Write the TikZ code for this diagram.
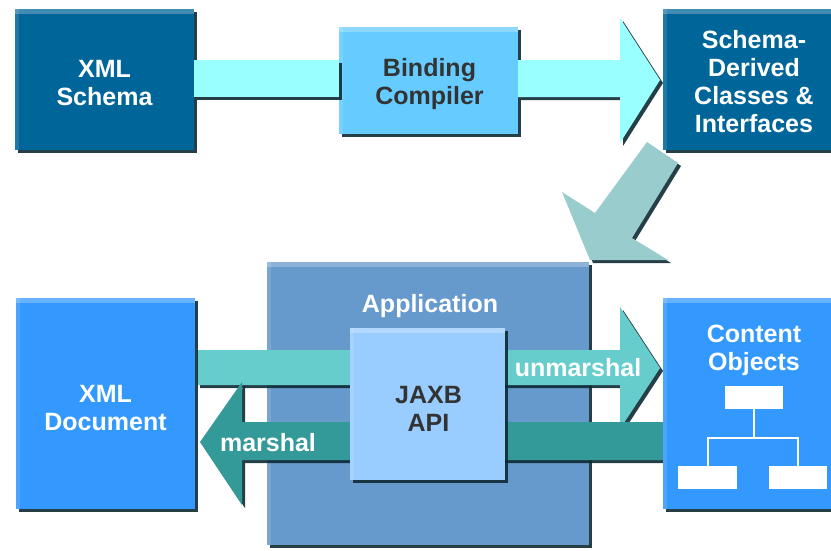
\documentclass[tikz,border=0pt]{standalone}
\usepackage{fontspec}
\setmainfont{Liberation Sans}
\usetikzlibrary{shadows,calc}
\definecolor{darkblue}{HTML}{006699}
\definecolor{bindc}{HTML}{66CCFF}
\definecolor{docblue}{HTML}{3399FF}
\definecolor{appblue}{HTML}{6699CC}
\definecolor{apiblue}{HTML}{99CCFF}
\definecolor{cyanarrow}{HTML}{99FFFF}
\definecolor{diagarrow}{HTML}{99CCCC}
\definecolor{unmarsh}{HTML}{66CCCC}
\definecolor{marsh}{HTML}{339999}
\definecolor{shadowc}{HTML}{0E2A33}
\definecolor{darktext}{HTML}{333333}
\begin{document}
\begin{tikzpicture}[x=1pt,y=-1pt,
  sh/.style={drop shadow={shadow xshift=3pt,shadow yshift=-3pt,fill=shadowc,opacity=0.9}},
  hl/.style={path picture={\fill[white,opacity=0.25] (path picture bounding box.north west) rectangle ([yshift=-5pt]path picture bounding box.north east);
      \fill[white,opacity=0.12] (path picture bounding box.north west) rectangle ([xshift=4pt]path picture bounding box.south west);}},
  box/.style={rectangle, inner sep=0pt, sh, hl},
  blockarrow/.style={sh},
  lbl/.style={font=\fontsize{25}{28}\selectfont\bfseries, text=white, inner sep=0pt, align=center},
  dlbl/.style={lbl, text=darktext}
]
\useasboundingbox (0,0) rectangle (831,550);

% top row boxes
\node[box, fill=darkblue, minimum width=179pt, minimum height=141pt] (xs) at (104.5,79.5) {};
\node[lbl] (xslbl) at ($(xs)+(0,4)$) {XML\\Schema};
\node[box, fill=bindc, minimum width=179pt, minimum height=107pt] (bc) at (428.5,80.5) {};
\node[dlbl] (bclbl) at ($(bc)+(1,4)$) {Binding\\Compiler};
\node[box, fill=darkblue, minimum width=182pt, minimum height=141pt] (sd) at (754,79.5) {};
\node[lbl] (sdlbl) at ($(sd)+(0,2)$) {Schema-\\Derived\\Classes \&\\Interfaces};

% top arrows
\fill[cyanarrow, blockarrow] (xs.east |- 0,60) rectangle (bc.west |- 0,97);
\fill[cyanarrow, blockarrow] (bc.east |- 0,60) -- (620,60) -- (620,18) -- (660,80) -- (620,143) -- (620,97) -- (bc.east |- 0,97) -- cycle;

% diagonal arrow
\fill[diagarrow, blockarrow] (647,142) -- (678,163) -- (632,238) -- (668,260) -- (590,260) -- (562,192) -- (595,213) -- cycle;

% application box
\node[box, fill=appblue, minimum width=322pt, minimum height=283pt] (app) at (428,403.5) {};
\node[lbl] (applbl) at (430,306) {Application};

% unmarshal arrow
\fill[unmarsh, blockarrow] (197,350) -- (620,350) -- (620,307) -- (660,368) -- (620,429) -- (620,385) -- (197,385) -- cycle;
% marshal arrow
\fill[marsh, blockarrow] (663,422) -- (242,422) -- (242,382) -- (200,442) -- (242,505) -- (242,460) -- (663,460) -- cycle;

% JAXB API
\node[box, fill=apiblue, minimum width=155pt, minimum height=152pt] (api) at (427.5,403.5) {};
\node[dlbl] (apilbl) at ($(api)+(1,5)$) {JAXB\\API};

% side boxes
\node[box, fill=docblue, minimum width=179pt, minimum height=211pt] (doc) at (105.5,403.5) {};
\node[lbl] (doclbl) at ($(doc)+(0,5)$) {XML\\Document};
\node[box, fill=docblue, minimum width=182pt, minimum height=211pt] (co) at (754,403.5) {};
\node[lbl] (colbl) at (754,350.5) {Content\\Objects};

% tree icon
\fill[white] (725,386) rectangle (783,409);
\fill[white] (678,466) rectangle (737,489);
\fill[white] (769,466) rectangle (827,489);
\draw[white, line width=2pt] (754,409) -- (754,438) (708,466) -- (708,438) -- (798,438) -- (798,466);

% labels
\node[lbl] (ulbl) at (578,368) {unmarshal};
\node[lbl] (mlbl) at (268,443) {marshal};
\end{tikzpicture}
\end{document}
